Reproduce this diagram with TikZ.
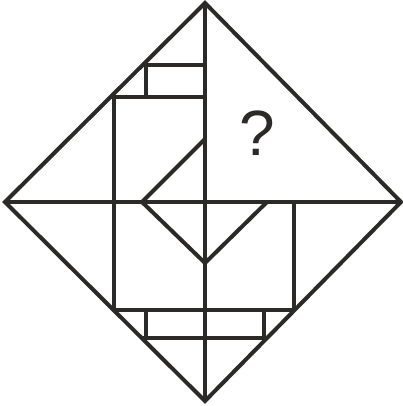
\documentclass[tikz,border=0pt]{standalone}
\usepackage{fontspec}
\setmainfont{Liberation Sans}
\definecolor{ink}{HTML}{2B2A29}
\begin{document}
\begin{tikzpicture}[x=1pt,y=-1pt,
  seg/.style={draw=ink,line width=4pt,line join=miter},
  qmark/.style={text=ink,font=\fontsize{64}{64}\selectfont,inner sep=0pt}]
\useasboundingbox (0,0) rectangle (402,406);
% diamond vertices
\coordinate (T) at (205,3);
\coordinate (L) at (5,202);
\coordinate (R) at (401,202);
\coordinate (B) at (205,401);
\draw[seg] (T) -- (R) -- (B) -- (L) -- cycle;
\draw[seg] (T) -- (B);
\draw[seg] (L) -- (R);
% top small rectangle
\coordinate (a1) at (142.7,65);
\coordinate (a2) at (205,65);
\coordinate (a3) at (146,65);
\coordinate (a4) at (146,97);
\draw[seg] (a1) -- (a2);
\draw[seg] (a3) -- (a4);
% upper horizontal and left vertical
\coordinate (b1) at (110.5,97);
\coordinate (b2) at (205,97);
\coordinate (c1) at (114,97);
\coordinate (c2) at (114,310);
\draw[seg] (b1) -- (b2);
\draw[seg] (c1) -- (c2);
% arrow shape
\coordinate (d1) at (205,139);
\coordinate (d2) at (142,202);
\coordinate (d3) at (205,263);
\coordinate (d4) at (267,202);
\draw[seg] (d1) -- (d2) -- (d3) -- (d4);
% right vertical
\coordinate (e1) at (294,202);
\coordinate (e2) at (294,310);
\draw[seg] (e1) -- (e2);
% lower horizontal
\coordinate (f1) at (113,310);
\coordinate (f2) at (295,310);
\draw[seg] (f1) -- (f2);
% bottom small rectangle
\coordinate (g1) at (146,310);
\coordinate (g2) at (146,338);
\coordinate (h1) at (264,310);
\coordinate (h2) at (264,338);
\coordinate (k1) at (141.5,338);
\coordinate (k2) at (267.5,338);
\draw[seg] (g1) -- (g2);
\draw[seg] (h1) -- (h2);
\draw[seg] (k1) -- (k2);
% question mark
\node[qmark] (q) at (257,133) {?};
\end{tikzpicture}
\end{document}
